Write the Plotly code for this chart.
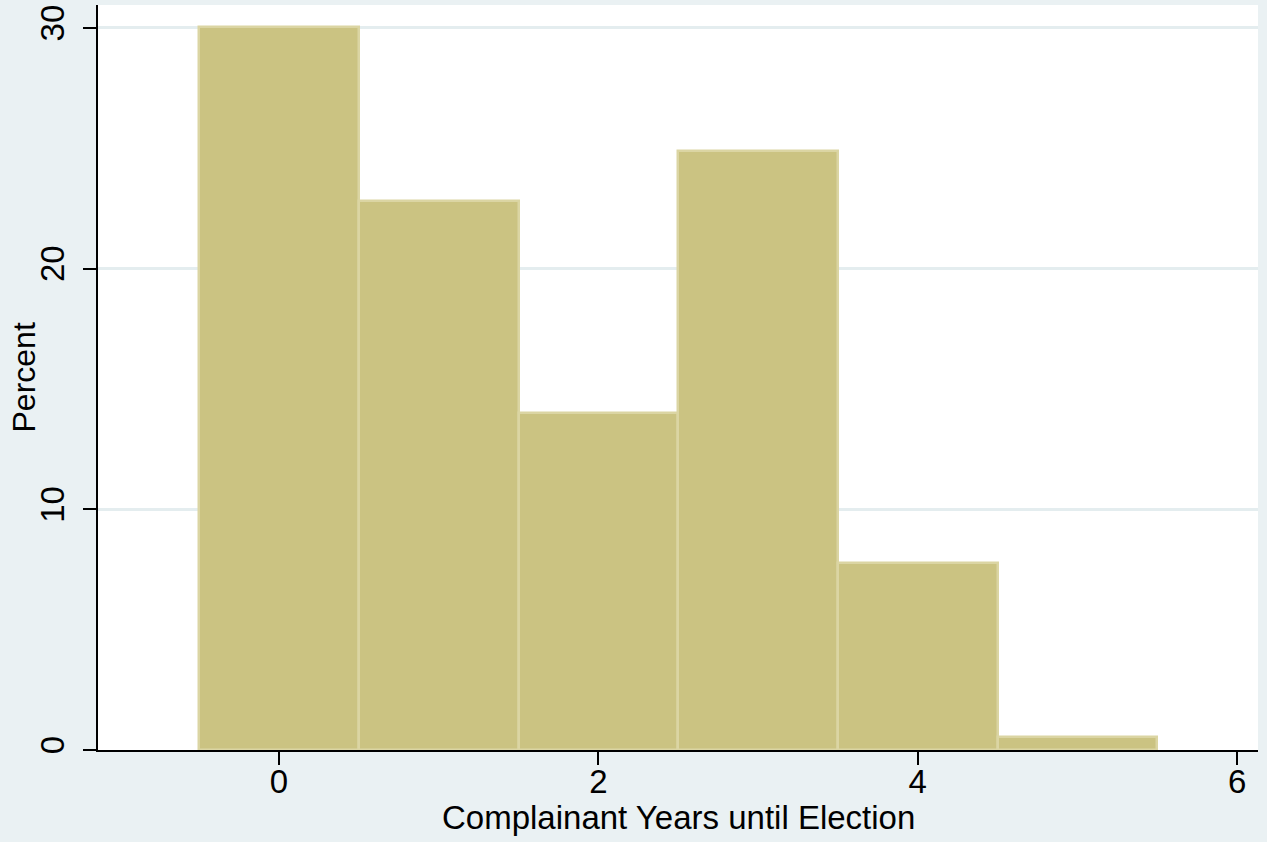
import plotly.graph_objects as go

years = [0, 1, 2, 3, 4, 5]
percent = [30.05, 22.80, 13.99, 24.87, 7.77, 0.52]
x_ticks = [0, 2, 4, 6]
y_ticks = [0, 10, 20, 30]

BG = "#EAF1F3"
FONT = "Liberation Sans, Arial, Helvetica, sans-serif"

fig = go.Figure(
    go.Bar(
        x=years,
        y=percent,
        width=1.0,
        marker=dict(color="#CBC382", line=dict(color="#DBD5A3", width=2.5)),
    )
)

fig.update_layout(
    width=1267,
    height=842,
    margin=dict(l=98, r=9, t=5, b=92),
    paper_bgcolor=BG,
    plot_bgcolor="white",
    showlegend=False,
    bargap=0,
    font=dict(family=FONT, size=33, color="black"),
    xaxis=dict(
        range=[-1.1336, 6.131],
        tickvals=x_ticks,
        ticks="outside",
        ticklen=13,
        tickwidth=1.5,
        tickcolor="black",
        ticklabelstandoff=-11,
        showline=True,
        linecolor="black",
        linewidth=1.5,
        showgrid=False,
        zeroline=False,
        tickfont=dict(size=33),
    ),
    yaxis=dict(
        range=[0, 30.955],
        tickvals=y_ticks,
        ticks="outside",
        ticklen=13,
        tickwidth=1.5,
        tickcolor="black",
        tickangle=-90,
        ticklabelstandoff=6,
        showline=True,
        linecolor="black",
        linewidth=1.5,
        showgrid=True,
        gridcolor="#E4EDEF",
        gridwidth=2.5,
        zeroline=False,
        tickfont=dict(size=33),
    ),
    annotations=[
        dict(text="Percent", textangle=-90, xref="paper", yref="paper",
             x=(23 - 98) / 1160, y=0.5, xanchor="center", yanchor="middle",
             showarrow=False, font=dict(size=32)),
        dict(text="Complainant Years until Election", xref="paper", yref="paper",
             x=0.5, y=(750 - 818) / 745, xanchor="center", yanchor="middle",
             showarrow=False, font=dict(size=33)),
    ],
)

fig.write_html("out.html")
